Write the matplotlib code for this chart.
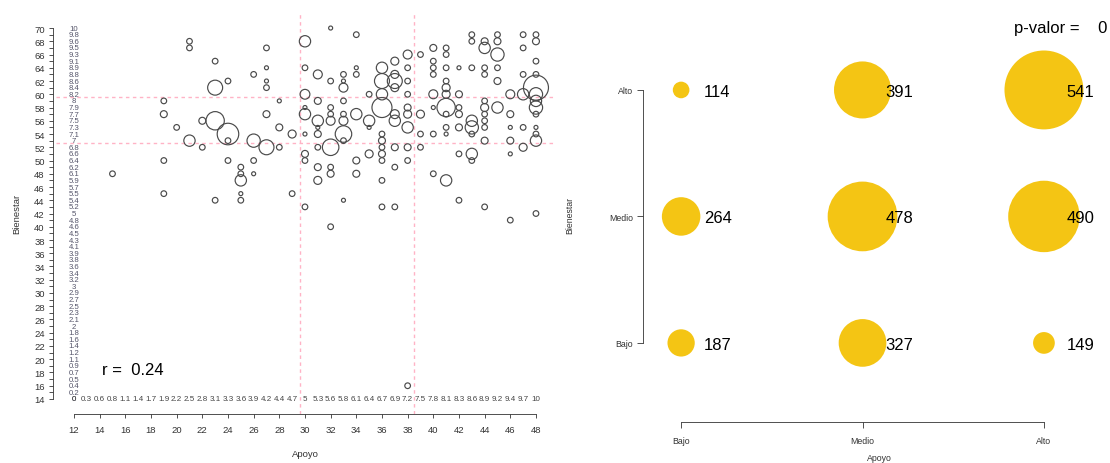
import matplotlib
matplotlib.use("Agg")
import matplotlib.pyplot as plt

plt.rcParams['font.family'] = ['Liberation Sans', 'DejaVu Sans']

# Apoyo / Bienestar combinations and how many cases fall on each one
apoyo = [15,
         19, 19, 19, 19,
         20,
         21, 21, 21,
         22, 22,
         23, 23, 23, 23,
         24, 24, 24, 24,
         25, 25, 25, 25, 25,
         26, 26, 26, 26,
         27, 27, 27, 27, 27, 27,
         28, 28, 28,
         29, 29,
         30, 30, 30, 30, 30, 30, 30, 30, 30,
         31, 31, 31, 31, 31, 31, 31, 31,
         32, 32, 32, 32, 32, 32, 32, 32, 32,
         33, 33, 33, 33, 33, 33, 33, 33, 33,
         34, 34, 34, 34, 34, 34,
         35, 35, 35, 35,
         36, 36, 36, 36, 36, 36, 36, 36, 36, 36, 36,
         37, 37, 37, 37, 37, 37, 37, 37, 37,
         38, 38, 38, 38, 38, 38, 38, 38, 38, 38,
         39, 39, 39, 39,
         40, 40, 40, 40, 40, 40, 40, 40,
         41, 41, 41, 41, 41, 41, 41, 41, 41, 41, 41,
         42, 42, 42, 42, 42, 42, 42,
         43, 43, 43, 43, 43, 43, 43, 43,
         44, 44, 44, 44, 44, 44, 44, 44, 44, 44, 44,
         45, 45, 45, 45, 45, 45,
         46, 46, 46, 46, 46, 46,
         47, 47, 47, 47, 47, 47,
         48, 48, 48, 48, 48, 48, 48, 48, 48, 48, 48, 48, 48]
bienestar = [48,
             59, 57, 50, 45,
             55,
             68, 67, 53,
             56, 52,
             65, 61, 56, 44,
             62, 54, 53, 50,
             49, 48, 47, 45, 44,
             63, 53, 50, 48,
             67, 64, 62, 61, 57, 52,
             59, 55, 52,
             54, 45,
             68, 64, 60, 58, 57, 54, 51, 50, 43,
             63, 59, 56, 55, 54, 52, 49, 47,
             70, 62, 58, 57, 56, 52, 49, 48, 40,
             63, 62, 61, 59, 57, 56, 54, 53, 44,
             69, 64, 63, 57, 50, 48,
             60, 56, 55, 51,
             64, 62, 60, 58, 54, 53, 52, 51, 50, 47, 43,
             65, 63, 62, 61, 57, 56, 52, 49, 43,
             66, 64, 62, 60, 58, 57, 55, 52, 50, 16,
             66, 57, 54, 52,
             67, 65, 64, 63, 60, 58, 54, 48,
             67, 66, 64, 62, 61, 60, 58, 57, 55, 54, 47,
             64, 60, 58, 57, 55, 51, 44,
             69, 68, 64, 56, 55, 54, 51, 50,
             68, 67, 64, 63, 59, 58, 57, 56, 55, 53, 43,
             69, 68, 66, 64, 62, 58,
             60, 57, 55, 53, 51, 41,
             69, 67, 63, 60, 55, 52,
             69, 68, 65, 63, 61, 60, 59, 58, 57, 55, 54, 53, 42]
frecuencia = [2,
              2, 3, 2, 2,
              2,
              2, 2, 8,
              3, 2,
              2, 14, 21, 2,
              2, 29, 2, 2,
              2, 2, 8, 1, 2,
              2, 11, 2, 1,
              2, 1, 1, 2, 3, 14,
              1, 3, 2,
              4, 2,
              8, 2, 6, 1, 8, 1, 3, 2, 2,
              5, 3, 8, 1, 3, 2, 3, 4,
              1, 2, 2, 2, 5, 17, 2, 3, 2,
              2, 1, 5, 2, 2, 5, 17, 2, 1,
              2, 1, 2, 8, 3, 3,
              2, 8, 1, 4,
              8, 14, 8, 25, 2, 3, 2, 3, 2, 2, 2,
              4, 4, 14, 4, 5, 8, 3, 2, 2,
              5, 2, 2, 2, 3, 4, 8, 3, 2, 2,
              2, 4, 2, 2,
              3, 2, 2, 2, 5, 1, 2, 2,
              2, 2, 2, 2, 4, 4, 21, 2, 2, 1, 8,
              1, 3, 2, 3, 3, 2, 2,
              2, 2, 2, 8, 11, 2, 8, 2,
              3, 8, 2, 2, 2, 4, 2, 2, 2, 3, 2,
              2, 3, 11, 2, 3, 8,
              5, 3, 1, 3, 1, 2,
              2, 2, 2, 8, 2, 4,
              2, 3, 2, 2, 39, 11, 8, 11, 2, 1, 2, 8, 2]

r_valor = 0.24
corte_apoyo = [29.6, 38.5]
corte_bienestar = [52.6, 59.6]

escala_apoyo = list(range(12, 49))
escala_bienestar = list(range(14, 71))

# tertile table: columns Apoyo Bajo/Medio/Alto, one list per Bienestar level
niveles = ['Bajo', 'Medio', 'Alto']
bienestar_bajo = [187, 327, 149]
bienestar_medio = [264, 478, 490]
bienestar_alto = [114, 391, 541]
p_valor = 0

W, H = 1110, 464


def fxy(px, py):
    return px / W, 1 - py / H


fig = plt.figure(figsize=(W / 100, H / 100), dpi=100)
gris = '#333333'

# ---------- left: bubble scatter ----------
ax1 = fig.add_axes([0.05, 0.106, 0.4495, 0.8634])
ax1.set_xlim(10.56, 49.44)
ax1.set_ylim(11.76, 72.24)

for c in corte_apoyo:
    ax1.axvline(c, color='#ffb3c6', ls=(0, (2.5, 2.5)), lw=1.0, zorder=1)
for c in corte_bienestar:
    ax1.axhline(c, color='#ffb3c6', ls=(0, (2.5, 2.5)), lw=1.0, zorder=1)

ax1.scatter(apoyo, bienestar, s=[8.3 * n for n in frecuencia],
            facecolors='none', edgecolors='#4a4a4a', linewidths=0.85,
            clip_on=False, zorder=3)

for s in ['top', 'right']:
    ax1.spines[s].set_visible(False)
ax1.spines['left'].set_bounds(14, 70)
ax1.spines['left'].set_position(('outward', 1.5))
ax1.spines['bottom'].set_bounds(12, 48)
for s in ['left', 'bottom']:
    ax1.spines[s].set_linewidth(0.6)
    ax1.spines[s].set_color(gris)

ax1.set_xticks(range(12, 49, 2))
ax1.set_yticks(range(14, 71, 2))
ax1.set_yticks(range(15, 70, 2), minor=True)
ax1.tick_params(which='both', length=3.2, width=0.6, color=gris,
                labelsize=6.8, labelcolor=gris)
ax1.tick_params(axis='y', which='both', pad=3)
ax1.tick_params(axis='x', pad=5)

# 0-10 rescaled values written along both axes
for v in escala_bienestar:
    lab = f"{round((v - 14) / 56 * 10, 1):g}"
    ax1.text(12, v, lab, ha='center', va='center', fontsize=5.6,
             color='#55556a', clip_on=False)
for v in escala_apoyo:
    lab = f"{round((v - 12) / 36 * 10, 1):g}"
    ax1.text(v, 14, lab, ha='center', va='center', fontsize=5.8,
             color='#444444', clip_on=False)

ax1.text(14.2, 18.5, f"r =  {r_valor}", fontsize=12, ha='left', va='center')

fig.text(*fxy(305, 455), 'Apoyo', ha='center', va='center', fontsize=6.8, color=gris)
fig.text(*fxy(17, 214), 'Bienestar', ha='center', va='center', fontsize=6.8,
         color=gris, rotation=90)

# ---------- right: tertile crosstab ----------
ax2 = fig.add_axes([0.5793, 0.0884, 0.3955, 0.8955])
ax2.set_xlim(0.79, 3.21)
ax2.set_ylim(0.375, 3.66)

filas = [bienestar_bajo, bienestar_medio, bienestar_alto]
for j, fila in enumerate(filas, start=1):
    xs = [1, 2, 3]
    ax2.scatter(xs, [j] * 3, s=[(0.105 * n) ** 2 for n in fila],
                color='#f4c514', edgecolors='none', clip_on=False, zorder=2)
    for x, n in zip(xs, fila):
        ax2.annotate(str(n), (x, j), xytext=(16.5, 0), textcoords='offset points',
                     ha='left', va='center_baseline', fontsize=12, zorder=3)

for s in ['top', 'right']:
    ax2.spines[s].set_visible(False)
ax2.spines['left'].set_bounds(1, 3)
ax2.spines['bottom'].set_bounds(1, 3)
for s in ['left', 'bottom']:
    ax2.spines[s].set_linewidth(0.6)
    ax2.spines[s].set_color(gris)
ax2.set_xticks([1, 2, 3])
ax2.set_xticklabels(niveles)
ax2.set_yticks([1, 2, 3])
ax2.set_yticklabels(niveles)
ax2.tick_params(length=4, width=0.6, color=gris, labelsize=6.3, labelcolor=gris)
ax2.tick_params(axis='y', pad=3)
ax2.tick_params(axis='x', pad=6)

fig.text(*fxy(1014, 29), f"p-valor =    {p_valor}", ha='left', va='center',
         fontsize=12)
fig.text(*fxy(879, 459), 'Apoyo', ha='center', va='center', fontsize=6.3, color=gris)
fig.text(*fxy(570, 215), 'Bienestar', ha='center', va='center', fontsize=6.3,
         color=gris, rotation=90)

fig.savefig('out.png', dpi=100)
